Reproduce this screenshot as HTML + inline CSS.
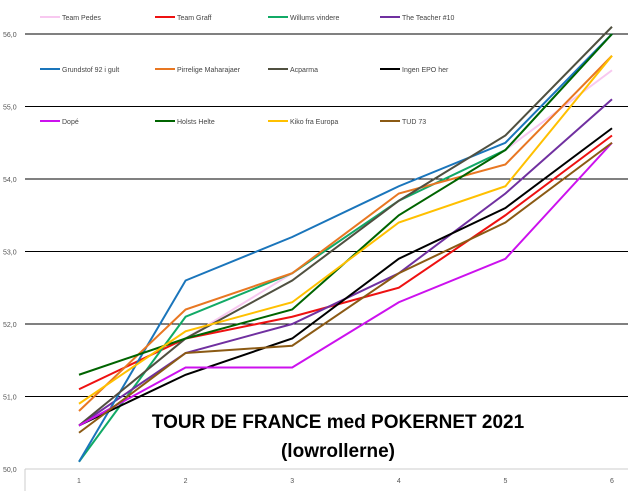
<!DOCTYPE html>
<html><head><meta charset="utf-8"><style>
body{margin:0;background:#fff}
svg{display:block;font-family:"Liberation Sans",sans-serif}
</style></head><body>
<svg id="c" width="628" height="491"></svg>
<script>
const categories=[1,2,3,4,5,6];
const yTicks=[50,51,52,53,54,55,56];
const yTickLabels=["50,0","51,0","52,0","53,0","54,0","55,0","56,0"];
const seriesNames=["Team Pedes","Team Graff","Willums vindere","The Teacher #10","Grundstof 92 i gult","Pirrelige Maharajaer","Acparma","Ingen EPO her","Dopé","Holsts Helte","Kiko fra Europa","TUD 73"];
const seriesColors=["#f8c8f0","#ee1111","#11aa66","#7030a0","#1a75bb","#e87722","#505040","#000000","#cc11ee","#006400","#ffc000","#8b5a14"];
const sPedes=[50.6,51.8,52.7,53.7,54.4,55.5];
const sGraff=[51.1,51.8,52.1,52.5,53.5,54.6];
const sWillums=[50.1,52.1,52.7,53.7,54.4,56.0];
const sTeacher=[50.6,51.6,52.0,52.7,53.8,55.1];
const sGrund=[50.1,52.6,53.2,53.9,54.5,56.0];
const sPirr=[50.8,52.2,52.7,53.8,54.2,55.7];
const sAcp=[50.6,51.8,52.6,53.7,54.6,56.1];
const sEpo=[50.6,51.3,51.8,52.9,53.6,54.7];
const sDope=[50.6,51.4,51.4,52.3,52.9,54.5];
const sHolst=[51.3,51.8,52.2,53.5,54.4,56.0];
const sKiko=[50.9,51.9,52.3,53.4,53.9,55.7];
const sTud=[50.5,51.6,51.7,52.7,53.4,54.5];
const allSeries=[sPedes,sGraff,sWillums,sTeacher,sGrund,sPirr,sAcp,sEpo,sDope,sHolst,sKiko,sTud];
const NS="http://www.w3.org/2000/svg";
const svg=document.getElementById('c');
const x=v=>79+(v-1)*106.6;
const y=v=>469-(v-50)*72.5;
function mk(t,a){const e=document.createElementNS(NS,t);for(const k in a)e.setAttribute(k,a[k]);svg.appendChild(e);return e;}
yTicks.forEach((t,i)=>{
 if(i>0){const g=mk('line',{x1:25,x2:628,y1:y(t),y2:y(t),stroke:'#000','stroke-width':1});
 
 }
 const l=mk('text',{x:3,y:y(t)+3,'font-size':7,fill:'#555'});l.textContent=yTickLabels[i];
 
 
});
const ax=mk('line',{x1:25,x2:628,y1:469,y2:469,stroke:'#ccc'});


const va=mk('line',{x1:25,x2:25,y1:469,y2:491,stroke:'#ccc'});


categories.forEach(c=>{const l=mk('text',{x:x(c),y:483,'font-size':7,fill:'#555','text-anchor':'middle'});l.textContent=c;
 
 });
allSeries.forEach((s,i)=>{
 const p=mk('polyline',{points:s.map((v,j)=>x(categories[j])+','+y(v)).join(' '),fill:'none',stroke:seriesColors[i],'stroke-width':2});
 
 
});
const lx=[40,155,268,380],ly=[17,69,121];
seriesNames.forEach((n,i)=>{
 const X=lx[i%4],Y=ly[Math.floor(i/4)];
 const s=mk('line',{x1:X,x2:X+20,y1:Y,y2:Y,stroke:seriesColors[i],'stroke-width':2});
 
 
 const t=mk('text',{x:X+22,y:Y+3,'font-size':7,fill:'#444'});t.textContent=n;
 
 
});
const t1=mk('text',{x:338,y:428,'font-size':19,'font-weight':'bold','text-anchor':'middle',fill:'#000'});t1.textContent="TOUR DE FRANCE med POKERNET 2021";


const t2=mk('text',{x:338,y:457,'font-size':19,'font-weight':'bold','text-anchor':'middle',fill:'#000'});t2.textContent="(lowrollerne)";


</script>
</body></html>
